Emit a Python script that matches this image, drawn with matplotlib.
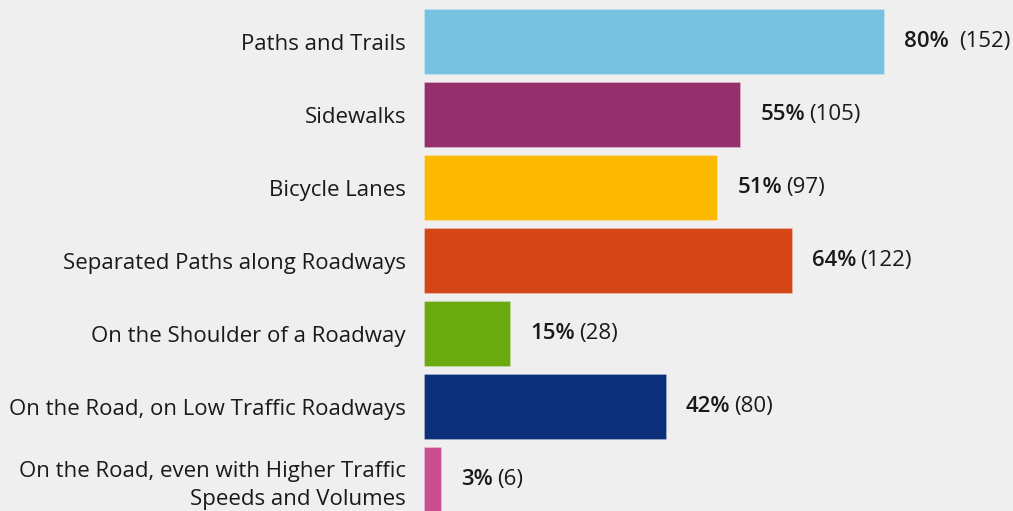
import matplotlib
matplotlib.use("Agg")
import matplotlib.pyplot as plt
from matplotlib.transforms import offset_copy

# ── data ──────────────────────────────────────────────────────────────────────
CATEGORIES = [
    "Paths and Trails",
    "Sidewalks",
    "Bicycle Lanes",
    "Separated Paths along Roadways",
    "On the Shoulder of a Roadway",
    "On the Road, on Low Traffic Roadways",
    "On the Road, even with Higher Traffic\nSpeeds and Volumes",
]
PERCENTS = [80, 55, 51, 64, 15, 42, 3]
COUNTS   = [152, 105, 97, 122, 28, 80, 6]
COLORS   = ["#77c1e1", "#95306d", "#fdb900", "#d44617",
            "#69aa0e", "#0c2f7a", "#c94f90"]

BG = "#efefef"
INK = "#1a1a1a"
FONT = ["Open Sans", "DejaVu Sans"]
FS = 16

fig = plt.figure(figsize=(10.13, 5.11), dpi=100, facecolor=BG)
ax = fig.add_axes([424 / 1013, 0, 1 - 424 / 1013, 1])
ax.set_facecolor(BG)

ypos = list(range(len(CATEGORIES)))
ax.barh(ypos, PERCENTS, height=0.89, color=COLORS,
        edgecolor="#ffffff40", linewidth=0.6)

ax.set_xlim(0, (1013 - 424) / 5.75)
ax.set_ylim(6.425, -0.575)
for s in ax.spines.values():
    s.set_visible(False)
ax.set_xticks([])
ax.set_yticks(ypos)
ax.set_yticklabels(CATEGORIES, fontsize=FS, color=INK, family=FONT,
                   linespacing=1.4)
ax.tick_params(axis="y", length=0, pad=13)

# value labels: semibold percent followed by count in parentheses
fig.canvas.draw()
renderer = fig.canvas.get_renderer()
for y, pct, n in zip(ypos, PERCENTS, COUNTS):
    tr = offset_copy(ax.transData, fig=fig, x=20, y=0, units="dots")
    t = ax.text(pct, y, f"{pct}%", transform=tr, fontsize=FS, fontweight=600,
                color=INK, family=FONT, ha="left", va="center")
    w = t.get_window_extent(renderer).width
    gap = 10 if pct == 80 else 4
    tr2 = offset_copy(ax.transData, fig=fig, x=20 + w + gap, y=0, units="dots")
    ax.text(pct, y, f"({n})", transform=tr2, fontsize=FS, color=INK,
            family=FONT, ha="left", va="center")

fig.savefig("out.png", dpi=100, facecolor=BG)
